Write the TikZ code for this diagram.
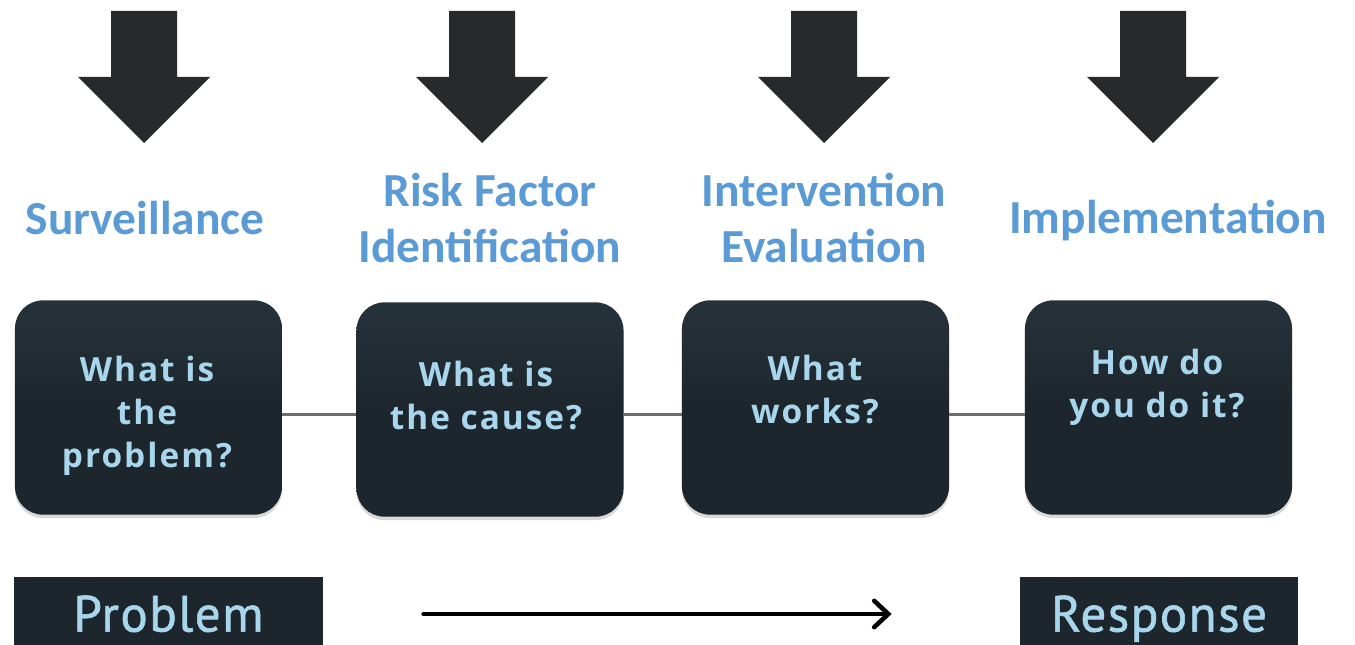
\documentclass[tikz,border=0pt]{standalone}
\usepackage{fontspec}
\setmainfont{Carlito}
\newfontfamily\boxfont{Open Sans}[LetterSpace=6]
\newfontfamily\endfont{PT Sans}[LetterSpace=3,FakeBold=1.2]
\usepackage{tikz}
\usetikzlibrary{arrows.meta,positioning,calc,shadows}
\definecolor{headblue}{RGB}{91,155,213}
\definecolor{boxdark}{RGB}{29,38,44}
\definecolor{boxtop}{RGB}{38,50,58}
\definecolor{qblue}{RGB}{168,214,236}
\definecolor{blockgray}{RGB}{40,41,43}
\definecolor{linkgray}{RGB}{110,110,110}
\tikzstyle{qbox}=[rounded corners=16pt,minimum width=152pt,minimum height=122pt,top color=boxtop,bottom color=boxdark,middle color=boxdark,drop shadow={opacity=0.3,shadow xshift=0pt,shadow yshift=-2pt}]
\tikzstyle{qtext}=[text=qblue,align=center,font=\boxfont\bfseries\fontsize{19}{24.5}\selectfont]
\tikzstyle{heading}=[text=headblue,align=center,font=\bfseries\fontsize{27}{32.4}\selectfont]
\tikzstyle{endbox}=[fill=boxdark,text=qblue,minimum height=42pt,text height=20pt,text depth=0pt,font=\endfont\fontsize{29}{35}\selectfont]
\tikzstyle{link}=[draw=linkgray,line width=1.4pt]
\tikzstyle{flow}=[line width=2.6pt,line cap=round,-{Straight Barb[length=8pt,width=15pt,line cap=round]}]

\begin{document}
\begin{tikzpicture}[x=0.02cm,y=-0.02cm]
\useasboundingbox (0,0) rectangle (1355,645);
\clip (0,0) rectangle (1355,645);
% block arrows on top
\foreach \x in {144,482,824,1153}
  \fill[blockgray] (\x-33,11) -- (\x+33,11) -- (\x+33,77) -- (\x+66,77)
    -- (\x,143) -- (\x-66,77) -- (\x-33,77) -- cycle;
% headings
\node[heading] (surv) at (145,218) {Surveillance};
\node[heading] (risk) at (490,218) {Risk Factor\\Identification};
\node[heading] (eval) at (824,218) {Intervention\\Evaluation};
\node[heading] (impl) at (1168,221) {Implementation};
% question boxes
\node[qbox] (q1) at (148.5,407.5) {};
\node[qbox] (q2) at (490,409.5) {};
\node[qbox] (q3) at (815.5,407.5) {};
\node[qbox] (q4) at (1158.5,407.5) {};
\draw[link] ([yshift=-4pt]q1.east) -- ([yshift=-4pt]q1.east -| q2.west);
\draw[link] ([yshift=-4pt]q3.west -| q2.east) -- ([yshift=-4pt]q3.west);
\draw[link] ([yshift=-4pt]q3.east) -- ([yshift=-4pt]q4.west);
\node[qtext] (t1) at (147,416) {What is\\the\\problem?};
\node[qtext] (t2) at (486,396) {What is\\the cause?};
\node[qtext] (t3) at (815,390) {What\\works?};
\node[qtext] (t4) at (1157,387) {How do\\you do it?};
% problem to response
\node[endbox,minimum width=176pt] (prob) at (168.5,614) {Problem};
\node[endbox,minimum width=158pt] (resp) at (1159,614) {Response};
\draw[flow] ([xshift=57pt]prob.east) -- ([xshift=-73pt]resp.west);
\end{tikzpicture}
\end{document}
